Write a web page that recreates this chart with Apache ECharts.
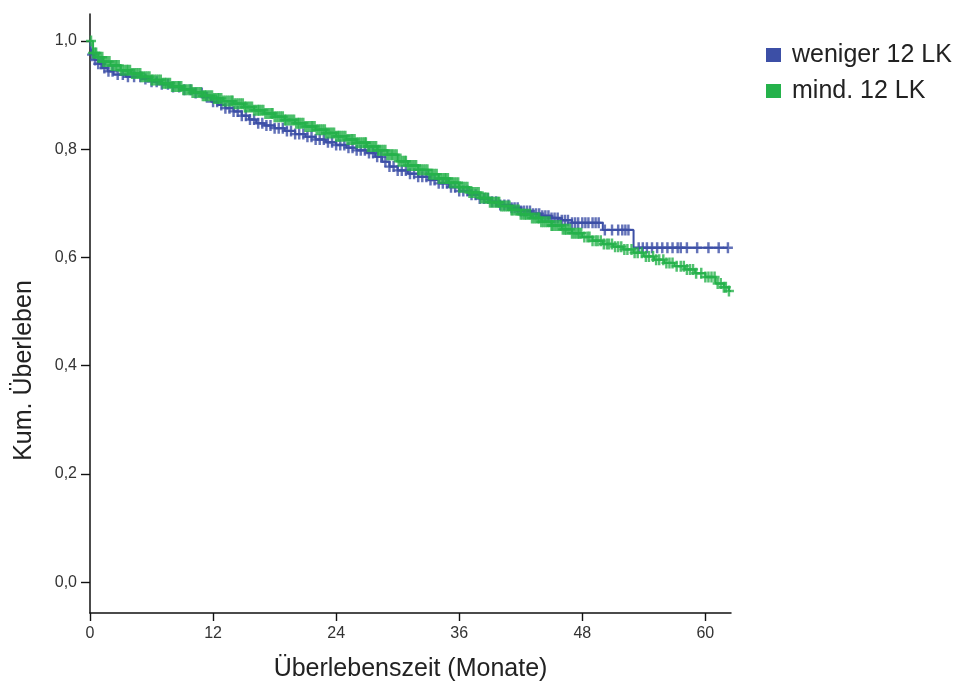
<!DOCTYPE html>
<html><head><meta charset="utf-8">
<script src="https://cdn.jsdelivr.net/npm/echarts@6/dist/echarts.min.js"></script>
<style>html,body{margin:0;padding:0;background:#fff}#c{width:964px;height:689px}</style>
</head><body><div id="c"></div>
<script>
var seriesNames = ['weniger 12 LK', 'mind. 12 LK'];
var xTicks = [0, 12, 24, 36, 48, 60];
var yTicks = [0, 0.2, 0.4, 0.6, 0.8, 1.0];

// Kaplan-Meier steps: [month, cumulative survival]
var bluSteps = [[0,1],[0.15,0.975],[0.4,0.965],[0.8,0.958],[1.2,0.95],[1.7,0.944],[2.3,0.938],[3.5,0.934],[5,0.93],[6,0.925],[7,0.92],[8,0.915],[9,0.91],[10,0.904],[11,0.896],[11.8,0.888],[12.5,0.882],[13.2,0.876],[14,0.87],[14.8,0.862],[15.5,0.855],[16.2,0.848],[17,0.844],[18,0.839],[19,0.834],[20,0.828],[21,0.823],[22,0.818],[23,0.813],[24,0.808],[25,0.803],[26,0.798],[27,0.793],[27.8,0.786],[28.5,0.777],[29.2,0.768],[30,0.761],[31,0.755],[32,0.749],[33,0.743],[34,0.737],[35,0.73],[36,0.723],[37,0.716],[38,0.709],[39,0.703],[40,0.697],[41,0.692],[42,0.686],[43,0.681],[44,0.677],[45,0.673],[46,0.669],[47,0.664],[50,0.651],[53,0.618],[62.2,0.618]];
var grnSteps = [[0,1],[0.3,0.978],[0.8,0.97],[1.3,0.962],[2,0.955],[3,0.946],[4,0.94],[5,0.934],[6,0.928],[7,0.922],[8,0.916],[9,0.91],[10,0.905],[11,0.899],[12,0.894],[13,0.889],[14,0.884],[15,0.878],[16,0.872],[17,0.866],[18,0.86],[19,0.854],[20,0.848],[21,0.842],[22,0.836],[23,0.83],[24,0.824],[25,0.818],[26,0.812],[27,0.805],[28,0.798],[29,0.79],[30,0.778],[31,0.77],[32,0.762],[33,0.754],[34,0.746],[35,0.738],[36,0.73],[37,0.72],[38,0.71],[39,0.702],[40,0.695],[41,0.688],[42,0.68],[43,0.673],[44,0.666],[45,0.659],[46,0.652],[47,0.645],[48,0.638],[49,0.631],[50,0.625],[51,0.62],[52,0.615],[53,0.609],[54,0.602],[55,0.596],[56,0.59],[57,0.584],[58,0.578],[59,0.571],[60,0.564],[61,0.552],[61.8,0.545],[62.3,0.538],[62.5,0.538]];

// censored observation times (months)
var bluCensor = [0.2,0.5,0.8,1.1,1.4,1.8,2.2,2.7,3.2,3.7,4.3,4.9,5.4,6.0,6.5,7.0,7.6,8.1,8.7,9.2,9.8,10.3,10.9,11.4,12.0,12.4,12.8,13.2,13.6,14.0,14.4,14.8,15.2,15.6,16.0,16.4,16.8,17.2,17.6,18.0,18.4,18.8,19.2,19.6,20.0,20.4,20.8,21.2,21.6,22.0,22.4,22.8,23.2,23.6,24.0,24.4,24.8,25.2,25.6,26.0,26.4,26.8,27.2,27.6,28.0,28.4,28.8,29.2,29.6,30.0,30.4,30.8,31.2,31.6,32.0,32.4,32.8,33.2,33.6,34.0,34.4,34.8,35.2,35.6,36.0,36.4,36.8,37.2,37.6,38.0,38.4,38.8,39.2,39.6,40.0,40.4,40.8,41.1,41.4,41.7,42.0,42.3,42.6,42.9,43.2,43.5,43.8,44.1,44.4,44.7,45.0,45.3,45.6,46.0,46.3,46.6,47.0,47.3,47.6,48.0,48.3,48.6,49.0,49.3,49.6,50.2,50.9,51.5,51.9,52.2,52.5,53.5,53.9,54.3,54.8,55.3,55.8,56.3,56.8,57.3,57.6,58.2,59.2,60.3,61.3,62.2];
var grnCensor = [0.1,0.3,0.5,0.6,0.8,1.0,1.2,1.3,1.5,1.7,1.9,2.1,2.3,2.5,2.6,2.8,3.0,3.2,3.4,3.6,3.7,3.9,4.1,4.3,4.5,4.7,4.9,5.0,5.2,5.4,5.6,5.8,6.0,6.1,6.3,6.5,6.7,6.9,7.1,7.3,7.4,7.6,7.8,8.0,8.2,8.4,8.6,8.7,8.9,9.1,9.3,9.5,9.7,9.9,10.0,10.2,10.4,10.6,10.8,11.0,11.2,11.3,11.5,11.7,11.9,12.1,12.3,12.5,12.6,12.8,13.0,13.2,13.4,13.6,13.8,13.9,14.1,14.3,14.5,14.7,14.9,15.1,15.2,15.4,15.6,15.8,16.0,16.2,16.4,16.5,16.7,16.9,17.1,17.3,17.5,17.7,17.8,18.0,18.2,18.4,18.6,18.8,19.0,19.1,19.3,19.5,19.7,19.9,20.1,20.3,20.4,20.6,20.8,21.0,21.2,21.4,21.6,21.7,21.9,22.1,22.3,22.5,22.7,22.9,23.0,23.2,23.4,23.6,23.8,24.0,24.2,24.3,24.5,24.7,24.9,25.1,25.3,25.5,25.6,25.8,26.0,26.2,26.4,26.6,26.8,26.9,27.1,27.3,27.5,27.7,27.9,28.1,28.2,28.4,28.6,28.8,29.0,29.2,29.4,29.5,29.7,29.9,30.1,30.3,30.5,30.7,30.8,31.0,31.2,31.4,31.6,31.8,32.0,32.1,32.3,32.5,32.7,32.9,33.1,33.3,33.4,33.6,33.8,34.0,34.2,34.4,34.6,34.7,34.9,35.1,35.3,35.5,35.7,35.9,36.0,36.2,36.4,36.6,36.8,37.0,37.2,37.3,37.5,37.7,37.9,38.1,38.3,38.5,38.6,38.8,39.0,39.2,39.4,39.6,39.8,39.9,40.1,40.3,40.5,40.7,40.9,41.1,41.2,41.4,41.6,41.8,42.0,42.2,42.4,42.5,42.7,42.9,43.1,43.3,43.5,43.7,43.8,44.0,44.2,44.4,44.6,44.8,45.0,45.1,45.3,45.5,45.7,45.9,46.1,46.3,46.4,46.6,46.8,47.0,47.2,47.4,47.6,47.7,47.9,48.2,48.5,48.7,49.0,49.3,49.5,49.8,50.1,50.4,50.6,50.9,51.2,51.5,51.8,52.1,52.4,52.8,53.1,53.4,53.8,54.2,54.5,54.9,55.2,55.5,55.9,56.2,56.5,56.8,57.2,57.6,57.9,58.2,58.5,58.8,59.1,59.6,60.0,60.3,60.6,60.9,61.2,61.5,61.8,62.0,62.3];

var BLUE = '#3c4fa6', GREEN = '#25b24b';

function stepAt(steps, t) {
  var v = steps[0][1];
  for (var i = 0; i < steps.length; i++) { if (steps[i][0] <= t) v = steps[i][1]; else break; }
  return v;
}
function censorPts(steps, times) { return times.map(function (t) { return [t, stepAt(steps, t)]; }); }

var plus = 'path://M3.7,0H6.1V11H3.7Z M0,4.3H9.8V6.7H0Z';
var font = '"Liberation Sans", Arial, sans-serif';

var chart = echarts.init(document.getElementById('c'), null, { renderer: 'canvas' });
chart.setOption({
  animation: false,
  backgroundColor: '#fff',
  grid: { left: 90, top: 14, right: 233, bottom: 76, containLabel: false },
  legend: {
    orient: 'vertical', left: 761, top: 36, itemWidth: 15, itemHeight: 14, itemGap: 8,
    icon: 'rect', data: seriesNames,
    textStyle: { fontSize: 25, lineHeight: 28, color: '#222', fontFamily: font, padding: [0, 0, 0, 6] }
  },
  xAxis: {
    type: 'value', min: 0, max: 62.5,
    name: 'Überlebenszeit (Monate)', nameLocation: 'middle', nameGap: 44,
    nameTextStyle: { fontSize: 25, color: '#222', fontFamily: font },
    axisLine: { onZero: false, lineStyle: { color: '#111', width: 1.5 } },
    axisTick: { show: true, length: 8, customValues: xTicks, lineStyle: { color: '#111', width: 1.4 } },
    axisLabel: { customValues: xTicks, fontSize: 16, color: '#333', margin: 13, fontFamily: font },
    splitLine: { show: false }
  },
  yAxis: {
    type: 'value', min: -0.057, max: 1.05,
    name: 'Kum. Überleben', nameLocation: 'middle', nameGap: 53, nameRotate: 90,
    nameTextStyle: { fontSize: 25, color: '#222', fontFamily: font, padding: [0, 114, 0, 0] },
    axisLine: { show: true, onZero: false, lineStyle: { color: '#111', width: 1.5 } },
    axisTick: { show: true, length: 9, customValues: yTicks, lineStyle: { color: '#111', width: 1.4 } },
    axisLabel: { customValues: yTicks, fontSize: 16, color: '#333', margin: 13, fontFamily: font,
      formatter: function (v) { return v.toFixed(1).replace('.', ','); } },
    splitLine: { show: false }
  },
  series: [
    { name: seriesNames[0], type: 'line', step: 'end', data: bluSteps, showSymbol: false, symbol: 'none',
      lineStyle: { color: BLUE, width: 2 }, itemStyle: { color: BLUE }, z: 2 },
    { name: seriesNames[0], type: 'scatter', data: censorPts(bluSteps, bluCensor), symbol: plus, symbolSize: [10, 11],
      itemStyle: { color: BLUE }, z: 2 },
    { name: seriesNames[1], type: 'line', step: 'end', data: grnSteps, showSymbol: false, symbol: 'none',
      lineStyle: { color: GREEN, width: 2 }, itemStyle: { color: GREEN }, z: 3 },
    { name: seriesNames[1], type: 'scatter', data: censorPts(grnSteps, grnCensor), symbol: plus, symbolSize: [10, 11],
      itemStyle: { color: GREEN }, z: 3 }
  ]
});
</script></body></html>
